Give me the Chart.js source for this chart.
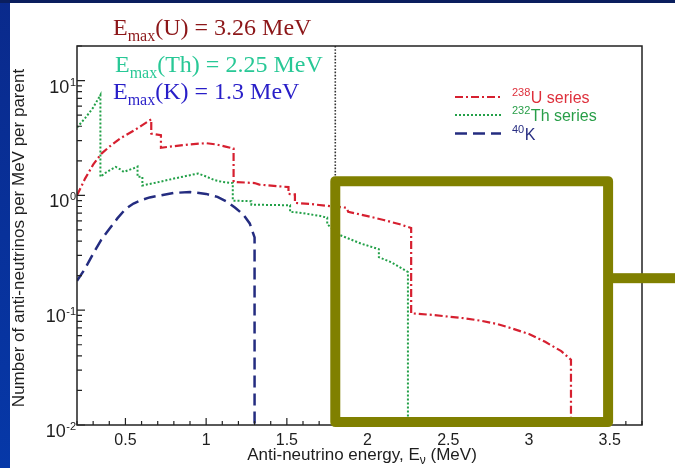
<!DOCTYPE html>
<html>
<head>
<meta charset="utf-8">
<script src="https://cdn.jsdelivr.net/npm/chart.js@4/dist/chart.umd.min.js"></script>
<style>
  html, body { margin: 0; padding: 0; background: #fff; }
  #c { display: block; }
</style>
</head>
<body>
<canvas id="c" width="675" height="468"></canvas>
<script>
// Anti-neutrino energy spectra per parent decay (energies in MeV, flux per MeV per parent)
const uEnergy = [0.20, 0.25, 0.30, 0.35, 0.40, 0.47, 0.55, 0.60, 0.66, 0.66, 0.72, 0.72, 0.80, 0.90, 1.00, 1.06, 1.12, 1.17, 1.17, 1.30, 1.33, 1.51, 1.51, 1.55, 1.55, 1.65, 1.75, 1.87, 1.88, 2.00, 2.10, 2.20, 2.27, 2.27, 2.40, 2.50, 2.60, 2.70, 2.80, 2.90, 3.00, 3.10, 3.20, 3.26, 3.26];
const uFlux   = [1.00, 1.40, 1.85, 2.30, 2.65, 3.15, 3.65, 4.05, 4.60, 3.45, 3.35, 2.60, 2.68, 2.78, 2.85, 2.78, 2.66, 2.56, 1.31, 1.28, 1.24, 1.18, 1.03, 1.02, 0.86, 0.84, 0.81, 0.78, 0.72, 0.66, 0.61, 0.56, 0.52, 0.094, 0.091, 0.088, 0.085, 0.081, 0.076, 0.069, 0.062, 0.053, 0.044, 0.037, 0.01];

const thEnergy = [0.20, 0.25, 0.30, 0.345, 0.345, 0.37, 0.41, 0.44, 0.47, 0.49, 0.52, 0.55, 0.575, 0.575, 0.605, 0.605, 0.70, 0.80, 0.90, 0.95, 1.00, 1.05, 1.10, 1.165, 1.165, 1.28, 1.28, 1.52, 1.52, 1.60, 1.71, 1.75, 1.75, 1.83, 1.96, 2.07, 2.07, 2.15, 2.25, 2.25];
const thFlux   = [3.9, 4.7, 5.8, 7.5, 1.45, 1.55, 1.68, 1.77, 1.68, 1.60, 1.66, 1.72, 1.78, 1.45, 1.45, 1.22, 1.30, 1.40, 1.50, 1.55, 1.46, 1.36, 1.31, 1.28, 0.90, 0.89, 0.83, 0.82, 0.72, 0.70, 0.66, 0.64, 0.56, 0.45, 0.38, 0.34, 0.29, 0.26, 0.215, 0.01];

const kEnergy = [0.20, 0.25, 0.30, 0.35, 0.40, 0.45, 0.50, 0.55, 0.60, 0.65, 0.70, 0.80, 0.90, 1.00, 1.07, 1.13, 1.18, 1.23, 1.27, 1.30, 1.30];
const kFlux   = [0.18, 0.23, 0.31, 0.41, 0.51, 0.63, 0.76, 0.85, 0.91, 0.96, 0.99, 1.05, 1.07, 1.03, 0.97, 0.88, 0.78, 0.68, 0.57, 0.43, 0.01];

// Inverse beta decay threshold (MeV)
const thresholdMeV = 1.8;

// Axis ticks
const xTickValues = [0.5, 1, 1.5, 2, 2.5, 3, 3.5];
const xTickLabels = ['0.5', '1', '1.5', '2', '2.5', '3', '3.5'];
const yDecades = [0.01, 0.1, 1, 10];
const yExponents = ['-2', '-1', '0', '1'];

// Endpoint annotations
const endpointNames = ['U', 'Th', 'K'];
const endpointValues = ['3.26', '2.25', '1.3'];

// Detectable window highlighted on the plot (MeV, flux)
const windowMeV = [1.8, 3.49];
const windowFlux = [1.33, 0.0106];
const connectorFlux = 0.19;

const toPoints = (xs, ys) => xs.map((x, i) => ({ x, y: ys[i] }));

const COLORS = {
  u: 'rgb(214,32,48)',
  th: 'rgb(34,160,72)',
  k: 'rgb(36,44,128)',
  uText: 'rgb(222,48,60)',
  thText: 'rgb(40,158,72)',
  kText: 'rgb(40,46,130)',
  emU: 'rgb(140,22,24)',
  emTh: 'rgb(40,200,150)',
  emK: 'rgb(40,30,200)',
  olive: 'rgb(128,128,0)',
  ink: '#1e1e1e'
};
const DASH = { u: [8, 3, 2, 3], th: [2, 2], k: [12, 6] };

const deco = {
  id: 'deco',
  beforeDraw(chart) {
    const ctx = chart.ctx;
    const W = chart.width, H = chart.height;
    ctx.save();
    ctx.fillStyle = '#ffffff';
    ctx.fillRect(0, 0, W, H);
    const g = ctx.createLinearGradient(0, 0, 0, H);
    g.addColorStop(0, '#0a2a8c');
    g.addColorStop(1, '#0638a8');
    ctx.fillStyle = g;
    ctx.fillRect(0, 0, 10, H);
    ctx.fillStyle = '#0a1e5e';
    ctx.fillRect(0, 0, W, 3);
    ctx.restore();
  },
  afterDatasetsDraw(chart) {
    const ctx = chart.ctx;
    const xs = chart.scales.x, ys = chart.scales.y;
    const a = chart.chartArea;
    ctx.save();

    // frame
    ctx.strokeStyle = '#222';
    ctx.lineWidth = 1.5;
    ctx.strokeRect(a.left, a.top, a.right - a.left, a.bottom - a.top);

    // inward tick marks
    ctx.lineWidth = 1.2;
    ctx.beginPath();
    for (let i = 2; i <= 37; i++) {
      const v = i / 10;
      const px = xs.getPixelForValue(v);
      const major = xTickValues.some(t => Math.abs(t - v) < 1e-6);
      ctx.moveTo(px, a.bottom);
      ctx.lineTo(px, a.bottom - (major ? 7 : 4));
    }
    for (let e = -2; e <= 1; e++) {
      for (let m = 1; m <= 9; m++) {
        const v = m * Math.pow(10, e);
        if (v > 20.001 || v < 0.00999) continue;
        const py = ys.getPixelForValue(v);
        ctx.moveTo(a.left, py);
        ctx.lineTo(a.left + (m === 1 ? 8 : 5), py);
      }
    }
    const v20 = ys.getPixelForValue(20);
    ctx.moveTo(a.left, v20); ctx.lineTo(a.left + 5, v20);
    ctx.stroke();

    // y tick labels with raised exponents
    ctx.fillStyle = COLORS.ink;
    ctx.textBaseline = 'alphabetic';
    yDecades.forEach((v, i) => {
      const py = ys.getPixelForValue(v);
      ctx.font = '11px "Liberation Sans"';
      const ew = ctx.measureText(yExponents[i]).width;
      ctx.textAlign = 'right';
      ctx.fillText(yExponents[i], 76, py + 5);
      ctx.font = '18px "Liberation Sans"';
      ctx.fillText('10', 76 - ew - 0.5, py + 12);
    });

    // highlighted window
    const bx1 = xs.getPixelForValue(windowMeV[0]);
    const bx2 = xs.getPixelForValue(windowMeV[1]);
    const by1 = ys.getPixelForValue(windowFlux[0]);
    const by2 = ys.getPixelForValue(windowFlux[1]);
    ctx.strokeStyle = COLORS.olive;
    ctx.lineWidth = 10;
    ctx.lineJoin = 'round';
    ctx.strokeRect(bx1, by1, bx2 - bx1, by2 - by1);
    const cy = ys.getPixelForValue(connectorFlux);
    ctx.fillStyle = COLORS.olive;
    ctx.fillRect(bx2, cy - 5, chart.width - bx2, 10);

    // endpoint annotations
    const emColors = [COLORS.emU, COLORS.emTh, COLORS.emK];
    const emPos = [[113, 35], [115, 72], [113, 99]];
    endpointNames.forEach((n, i) => {
      let [x, y] = emPos[i];
      ctx.fillStyle = emColors[i];
      ctx.textAlign = 'left';
      ctx.font = '24px "Liberation Serif"';
      ctx.fillText('E', x, y);
      x += ctx.measureText('E').width;
      ctx.font = '16px "Liberation Serif"';
      ctx.fillText('max', x, y + 6);
      x += ctx.measureText('max').width;
      ctx.font = '24px "Liberation Serif"';
      ctx.fillText('(' + n + ') = ' + endpointValues[i] + ' MeV', x, y);
    });

    // legend
    const legend = [
      { sup: '238', name: 'U series', line: COLORS.u, text: COLORS.uText, dash: DASH.u, w: 2.2, y: 97 },
      { sup: '232', name: 'Th series', line: COLORS.th, text: COLORS.thText, dash: DASH.th, w: 2, y: 115 },
      { sup: '40', name: 'K', line: COLORS.k, text: COLORS.kText, dash: DASH.k, w: 2.5, y: 133.5 }
    ];
    legend.forEach(item => {
      ctx.strokeStyle = item.line;
      ctx.lineWidth = item.w;
      ctx.lineJoin = 'miter';
      ctx.setLineDash(item.dash);
      ctx.beginPath();
      ctx.moveTo(455, item.y);
      ctx.lineTo(501, item.y);
      ctx.stroke();
      ctx.setLineDash([]);
      ctx.fillStyle = item.text;
      ctx.textAlign = 'left';
      ctx.font = '11px "Liberation Sans"';
      ctx.fillText(item.sup, 512, item.y - 1);
      const sw = ctx.measureText(item.sup).width;
      ctx.font = '16px "Liberation Sans"';
      ctx.fillText(item.name, 512 + sw + 0.5, item.y + 6);
    });

    // axis titles
    ctx.fillStyle = COLORS.ink;
    ctx.font = '17px "Liberation Sans"';
    const p1 = 'Anti-neutrino energy, E', p3 = ' (MeV)';
    const w1 = ctx.measureText(p1).width, w3 = ctx.measureText(p3).width;
    ctx.font = '12px "Liberation Sans"';
    const w2 = ctx.measureText('\u03bd').width;
    let tx = 362 - (w1 + w2 + w3) / 2;
    ctx.textAlign = 'left';
    ctx.font = '17px "Liberation Sans"';
    ctx.fillText(p1, tx, 460);
    ctx.font = '12px "Liberation Sans"';
    ctx.fillText('\u03bd', tx + w1, 464);
    ctx.font = '17px "Liberation Sans"';
    ctx.fillText(p3, tx + w1 + w2, 460);

    ctx.translate(19, 238);
    ctx.rotate(-Math.PI / 2);
    ctx.textAlign = 'center';
    ctx.textBaseline = 'middle';
    ctx.font = '17px "Liberation Sans"';
    ctx.fillText('Number of anti-neutrinos per MeV per parent', 0, 0);

    ctx.restore();
  }
};

new Chart(document.getElementById('c'), {
  type: 'line',
  data: {
    datasets: [
      {
        label: '40K',
        data: toPoints(kEnergy, kFlux),
        borderColor: COLORS.k, borderWidth: 2.5, borderDash: DASH.k,
        pointRadius: 0, tension: 0, fill: false
      },
      {
        label: '232Th series',
        data: toPoints(thEnergy, thFlux),
        borderColor: COLORS.th, borderWidth: 2, borderDash: DASH.th,
        pointRadius: 0, tension: 0, fill: false
      },
      {
        label: '238U series',
        data: toPoints(uEnergy, uFlux),
        borderColor: COLORS.u, borderWidth: 2.2, borderDash: DASH.u,
        pointRadius: 0, tension: 0, fill: false
      },
      {
        label: 'threshold',
        data: [{ x: thresholdMeV, y: 20 }, { x: thresholdMeV, y: 0.01 }],
        borderColor: '#333', borderWidth: 1.6, borderDash: [1.6, 1.6],
        pointRadius: 0, fill: false
      }
    ]
  },
  options: {
    responsive: false,
    animation: false,
    devicePixelRatio: 1,
    layout: { padding: { top: 46, right: 33, left: 0, bottom: 0 } },
    plugins: { legend: { display: false }, tooltip: { enabled: false } },
    scales: {
      x: {
        type: 'linear', min: 0.2, max: 3.7,
        grid: { display: false, drawTicks: false },
        border: { display: false },
        afterFit: s => { s.height = 43; },
        afterBuildTicks: s => { s.ticks = xTickValues.map(v => ({ value: v })); },
        ticks: {
          padding: 6,
          color: COLORS.ink,
          font: { family: 'Liberation Sans', size: 16 },
          maxRotation: 0, autoSkip: false,
          callback: (v) => xTickLabels[xTickValues.indexOf(v)] ?? ''
        }
      },
      y: {
        type: 'logarithmic', min: 0.01, max: 20,
        grid: { display: false, drawTicks: false },
        border: { display: false },
        afterFit: s => { s.width = 77; },
        ticks: { display: false }
      }
    }
  },
  plugins: [deco]
});
</script>
</body>
</html>
